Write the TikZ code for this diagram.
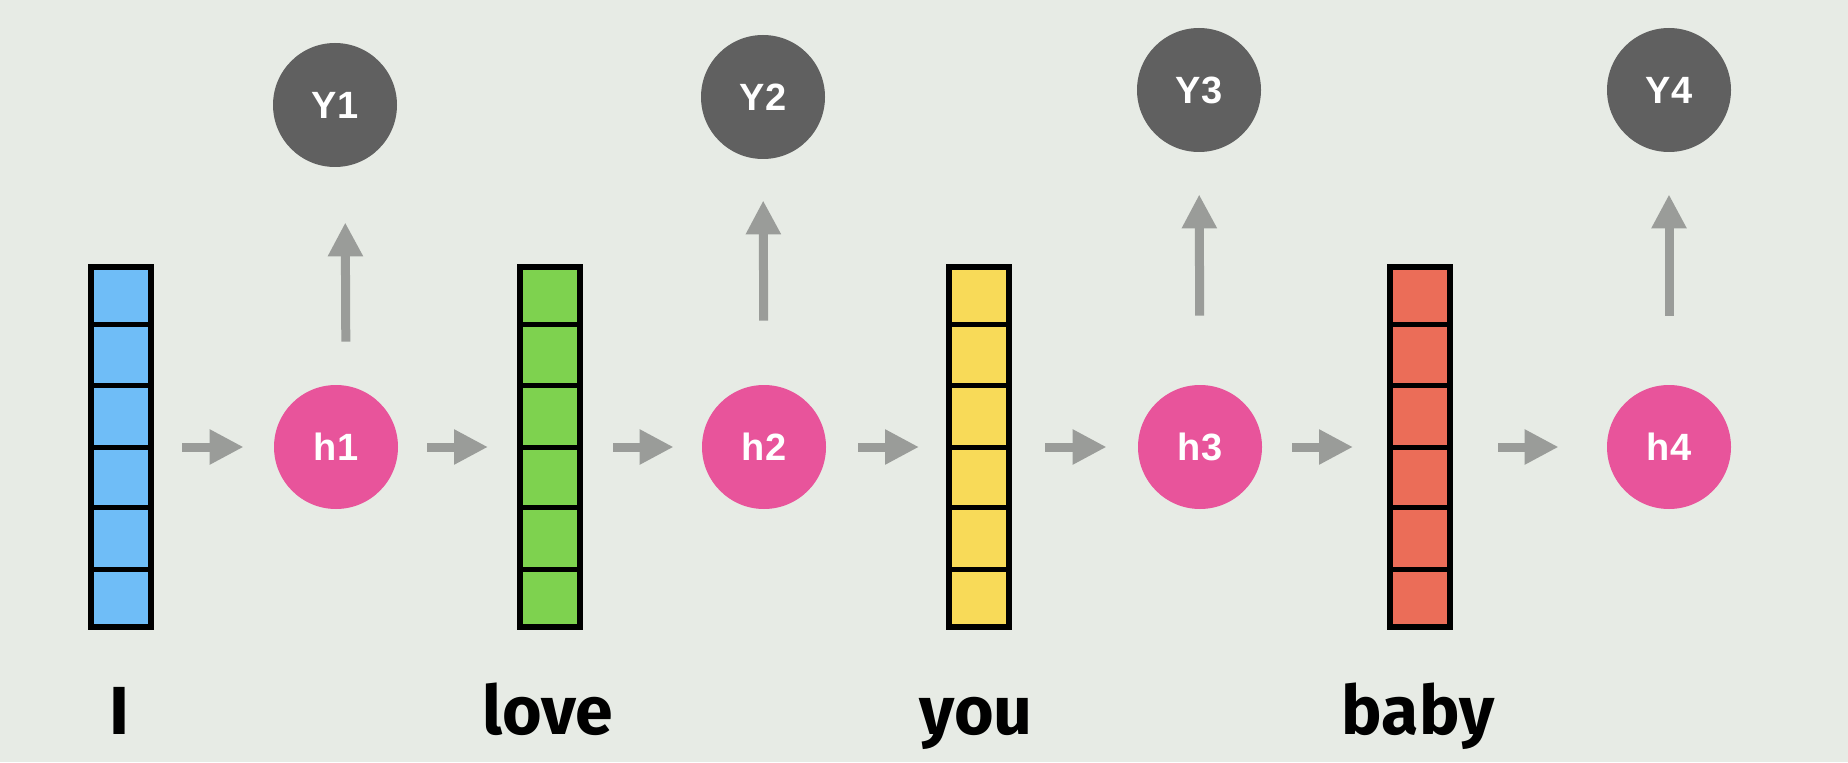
\documentclass[tikz,border=0pt]{standalone}
\usepackage{fontspec}
\setmainfont{Liberation Sans}
\newfontfamily\wordfont{Fira Sans}
\usetikzlibrary{arrows.meta, positioning, calc}

\definecolor{bgcol}{HTML}{E7EBE5}
\definecolor{vblue}{HTML}{6FBDF7}
\definecolor{vgreen}{HTML}{7ED24F}
\definecolor{vyellow}{HTML}{F8DA58}
\definecolor{vred}{HTML}{EB6D58}
\definecolor{hpink}{HTML}{E8549B}
\definecolor{ydark}{HTML}{606060}
\definecolor{agray}{HTML}{9A9C99}

\begin{document}
\begin{tikzpicture}[
    x=0.5pt, y=0.5pt,
    vector/.style={rectangle, draw, line width=3pt, minimum width=30pt, minimum height=180pt, inner sep=0pt},
    hidden/.style={circle, fill=hpink, minimum size=62pt, inner sep=0pt, text=white, font=\bfseries\fontsize{19}{24}\selectfont},
    output/.style={hidden, fill=ydark},
    word/.style={anchor=base, font=\wordfont\bfseries\fontsize{34}{40}\selectfont},
    arrow/.style={-{Triangle[length=17pt, width=16.5pt, fill=agray]}, line width=4.5pt, draw=agray, line cap=butt},
]

% Background
\fill[bgcol] (0,0) rectangle (1848,762);

% Word vectors
\foreach \n/\x/\col in {1/121/vblue, 2/550/vgreen, 3/979/vyellow, 4/1420/vred} {
    \node[vector, fill=\col] (v\n) at (\x,315) {};
    \foreach \k in {1,...,5}
        \draw[line width=2.5pt] ($(v\n.north west)!\k/6!(v\n.south west)$) -- ($(v\n.north east)!\k/6!(v\n.south east)$);
}

% Hidden states
\node[hidden] (h1) at (336,315) {h1};
\node[hidden] (h2) at (764,315) {h2};
\node[hidden] (h3) at (1200,315) {h3};
\node[hidden] (h4) at (1669,315) {h4};

% Outputs
\node[output] (y1) at (335,657) {Y1};
\node[output] (y2) at (763,665) {Y2};
\node[output] (y3) at (1199,672) {Y3};
\node[output] (y4) at (1669,672) {Y4};

% Words
\node[word] (w1) at (119,28) {I};
\node[word] (w2) at (548,28) {love};
\node[word] (w3) at (976,28) {you};
\node[word] (w4) at (1418,28) {baby};

% Arrows
\foreach \a/\b/\s/\e in {v1/h1/14pt/15pt, h1/v2/14.5pt/14.5pt, v2/h2/15pt/14pt, h2/v3/16pt/13.5pt,
                         v3/h3/16.5pt/15.5pt, h3/v4/15pt/17pt, v4/h4/22.5pt/24pt}
    \draw[arrow, shorten <=\s, shorten >=\e] (\a) -- (\b);

\foreach \a/\b/\s/\e/\dx in {h1/y1/21.5pt/27.5pt/5pt, h2/y2/32pt/20.5pt/0pt,
                             h3/y3/34.5pt/21pt/0pt, h4/y4/34.5pt/21pt/0pt}
    \draw[arrow, shorten <=\s, shorten >=\e] ([xshift=\dx]\a.north) -- ([xshift=\dx]\b.south);

\end{tikzpicture}
\end{document}
